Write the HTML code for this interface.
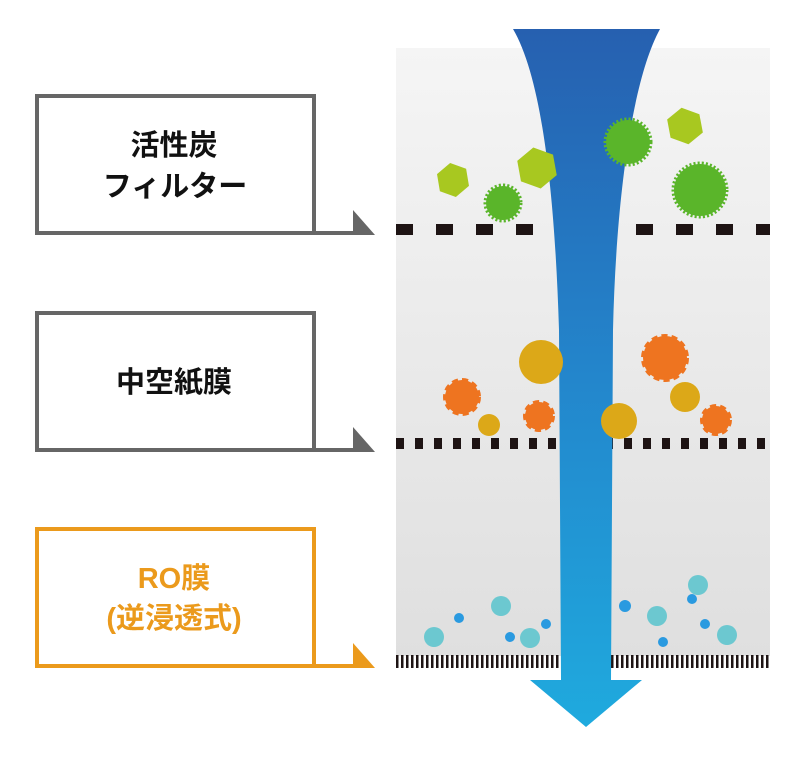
<!DOCTYPE html>
<html><head><meta charset="utf-8"><style>
html,body{margin:0;padding:0;background:#fff;}
body{width:794px;height:756px;overflow:hidden;}
svg text{font-family:"Liberation Sans","Noto Sans CJK JP",sans-serif;}
</style></head><body>
<svg width="794" height="756" viewBox="0 0 794 756" xmlns="http://www.w3.org/2000/svg">
<defs>
<linearGradient id="bg" x1="0" y1="0" x2="0" y2="1"><stop offset="0" stop-color="#f5f5f5"/><stop offset="1" stop-color="#dfdfdf"/></linearGradient>
<linearGradient id="bl" x1="0" y1="0" x2="0" y2="1"><stop offset="0" stop-color="#2660b0"/><stop offset="0.5" stop-color="#2386cc"/><stop offset="1" stop-color="#1faade"/></linearGradient>
<pattern id="d1" x="396" y="0" width="40" height="756" patternUnits="userSpaceOnUse"><rect x="0" y="224" width="17" height="11" fill="#1e1414"/></pattern>
<pattern id="d2" x="396" y="0" width="19" height="756" patternUnits="userSpaceOnUse"><rect x="0" y="438" width="8" height="11" fill="#1e1414"/></pattern>
<pattern id="d3" x="396" y="0" width="5" height="756" patternUnits="userSpaceOnUse"><rect x="0" y="655" width="2.5" height="13" fill="#1e1414"/></pattern>
</defs>
<rect x="396" y="48" width="374" height="608" fill="url(#bg)"/>
<rect x="396" y="224" width="374" height="11" fill="url(#d1)"/>
<rect x="396" y="438" width="374" height="11" fill="url(#d2)"/>
<rect x="396" y="655" width="374" height="13" fill="url(#d3)"/>
<path d="M513,29 L660,29 C632,80 616,200 613,330 L611,680 L642,680 L586,727 L530,680 L561,680 L559,330 C555,200 543,80 513,29 Z" fill="url(#bl)"/>
<g fill="#a8c820">
<polygon points="470,180 461.5,195 444.5,195 436,180 444.5,165 461.5,165" transform="rotate(20 453 180)"/>
<polygon points="558,168 547.5,186 526.5,186 516,168 526.5,150 547.5,150" transform="rotate(20 537 168)"/>
<polygon points="704,126 694.5,142 675.5,142 666,126 675.5,110 694.5,110" transform="rotate(20 685 126)"/>
</g>
<g fill="#5ab52a" stroke="#5ab52a" stroke-width="5" stroke-dasharray="2 2">
<circle cx="503" cy="203" r="17"/><circle cx="628" cy="142" r="22"/><circle cx="700" cy="190" r="26"/>
</g>
<g fill="#ee7420" stroke="#ee7420" stroke-width="4" stroke-dasharray="6 4">
<circle cx="462" cy="397" r="17"/><circle cx="539" cy="416" r="14"/><circle cx="665" cy="358" r="22"/><circle cx="716" cy="420" r="14"/>
</g>
<g fill="#dca818">
<circle cx="541" cy="362" r="22"/><circle cx="489" cy="425" r="11"/><circle cx="619" cy="421" r="18"/><circle cx="685" cy="397" r="15"/>
</g>
<g fill="#6cc8d0">
<circle cx="434" cy="637" r="10"/><circle cx="501" cy="606" r="10"/><circle cx="530" cy="638" r="10"/><circle cx="657" cy="616" r="10"/><circle cx="698" cy="585" r="10"/><circle cx="727" cy="635" r="10"/>
</g>
<g fill="#2a9ae0">
<circle cx="459" cy="618" r="5"/><circle cx="510" cy="637" r="5"/><circle cx="546" cy="624" r="5"/><circle cx="625" cy="606" r="6"/><circle cx="692" cy="599" r="5"/><circle cx="705" cy="624" r="5"/><circle cx="663" cy="642" r="5"/>
</g>
<g fill="none" stroke="#666" stroke-width="4">
<rect x="37" y="96" width="277" height="137" fill="#fff"/>
<path d="M314,233 L358,233"/>
<rect x="37" y="313" width="277" height="137" fill="#fff"/>
<path d="M314,450 L358,450"/>
</g>
<polygon points="353,210 375,235 353,235" fill="#666"/>
<polygon points="353,427 375,452 353,452" fill="#666"/>
<g fill="none" stroke="#eb9a1c" stroke-width="4">
<rect x="37" y="529" width="277" height="137" fill="#fff"/>
<path d="M314,666 L358,666"/>
</g>
<polygon points="353,643 375,668 353,668" fill="#eb9a1c"/>
<g font-size="29" text-anchor="middle" fill="#111" font-weight="bold">
<text x="174" y="155">活性炭</text>
<text x="175" y="196">フィルター</text>
<text x="174" y="392">中空紙膜</text>
</g>
<g font-size="29" text-anchor="middle" fill="#eb9a1c" font-weight="bold">
<text x="174" y="588">RO膜</text>
<text x="174" y="628">(逆浸透式)</text>
</g>
</svg>
</body></html>
